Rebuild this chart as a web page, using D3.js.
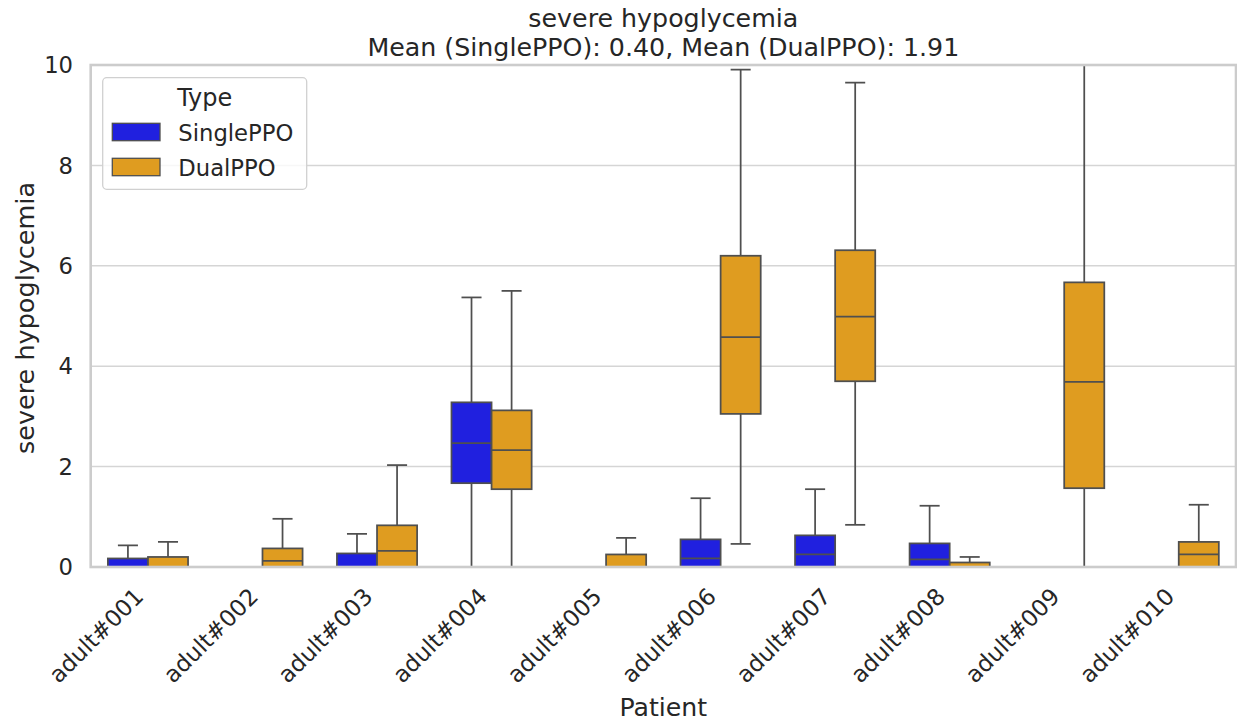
<!DOCTYPE html>
<html>
<head>
<meta charset="utf-8">
<script src="https://cdn.jsdelivr.net/npm/d3@7"></script>
<style>
  html, body { margin: 0; padding: 0; background: #ffffff; }
  svg { display: block; font-family: "DejaVu Sans", sans-serif; }
</style>
</head>
<body>
<svg id="chart" width="1237" height="722"></svg>
<script>
// Patients on the x axis
const patients = ["adult#001", "adult#002", "adult#003", "adult#004", "adult#005",
                  "adult#006", "adult#007", "adult#008", "adult#009", "adult#010"];

// Box statistics per patient: [lower whisker, Q1, median, Q3, upper whisker]
const singlePPO = [
  [0, 0, 0, 0.17, 0.43],
  [0, 0, 0, 0, 0],
  [0, 0, 0, 0.27, 0.66],
  [0, 1.67, 2.47, 3.28, 5.37],
  [0, 0, 0, 0, 0],
  [0, 0, 0.17, 0.55, 1.37],
  [0, 0, 0.25, 0.63, 1.55],
  [0, 0, 0.15, 0.47, 1.22],
  [0, 0, 0, 0, 0],
  [0, 0, 0, 0, 0]
];
const dualPPO = [
  [0, 0, 0, 0.20, 0.50],
  [0, 0, 0.12, 0.37, 0.96],
  [0, 0, 0.32, 0.83, 2.03],
  [0, 1.55, 2.33, 3.12, 5.50],
  [0, 0, 0, 0.25, 0.58],
  [0.46, 3.05, 4.58, 6.20, 9.91],
  [0.84, 3.70, 4.99, 6.31, 9.65],
  [0, 0, 0, 0.09, 0.20],
  [0, 1.57, 3.69, 5.67, 11.5],
  [0, 0, 0.25, 0.50, 1.24]
];

const seriesNames = ["SinglePPO", "DualPPO"];
const seriesColors = ["#2020df", "#df9c20"];
const yTicks = [0, 2, 4, 6, 8, 10];
const titleLines = ["severe hypoglycemia", "Mean (SinglePPO): 0.40, Mean (DualPPO): 1.91"];

const svg = d3.select("#chart");
const plotLeft = 90.7, plotRight = 1236, plotTop = 65, plotBottom = 567;
const textColor = "#262626";
const lineColor = "#4f4f4f";
const gridColor = "#d5d5d5";

const x = d3.scaleBand().domain(patients).range([plotLeft, plotRight]).padding(0);
const y = d3.scaleLinear().domain([0, 10]).range([plotBottom, plotTop]);
const hue = d3.scaleBand().domain(seriesNames)
  .range([-0.35 * x.bandwidth(), 0.35 * x.bandwidth()]).padding(0);

svg.append("defs").append("clipPath").attr("id", "plotClip")
  .append("rect").attr("x", plotLeft).attr("y", plotTop)
  .attr("width", plotRight - plotLeft).attr("height", plotBottom - plotTop);

// Horizontal grid
svg.append("g").selectAll("line").data(yTicks).join("line")
  .attr("x1", plotLeft).attr("x2", plotRight)
  .attr("y1", d => y(d)).attr("y2", d => y(d))
  .attr("stroke", gridColor).attr("stroke-width", 1.5);

// Boxes
const plot = svg.append("g").attr("clip-path", "url(#plotClip)");
const series = [singlePPO, dualPPO];
series.forEach((stats, si) => {
  const name = seriesNames[si];
  const g = plot.append("g");
  const bw = hue.bandwidth();
  const rows = patients.map((p, i) => ({ p, s: stats[i] }));
  const grp = g.selectAll("g").data(rows).join("g")
    .attr("transform", d => `translate(${x(d.p) + x.bandwidth() / 2 + hue(name)},0)`);
  // whiskers
  grp.append("line").attr("x1", bw / 2).attr("x2", bw / 2)
    .attr("y1", d => y(d.s[0])).attr("y2", d => y(d.s[1]))
    .attr("stroke", lineColor).attr("stroke-width", 1.75);
  grp.append("line").attr("x1", bw / 2).attr("x2", bw / 2)
    .attr("y1", d => y(d.s[3])).attr("y2", d => y(d.s[4]))
    .attr("stroke", lineColor).attr("stroke-width", 1.75);
  // caps
  grp.append("line").attr("x1", bw / 4).attr("x2", bw * 3 / 4)
    .attr("y1", d => y(d.s[0])).attr("y2", d => y(d.s[0]))
    .attr("stroke", lineColor).attr("stroke-width", 1.75);
  grp.append("line").attr("x1", bw / 4).attr("x2", bw * 3 / 4)
    .attr("y1", d => y(d.s[4])).attr("y2", d => y(d.s[4]))
    .attr("stroke", lineColor).attr("stroke-width", 1.75);
  // box
  grp.append("rect").attr("x", 0).attr("width", bw)
    .attr("y", d => y(d.s[3])).attr("height", d => y(d.s[1]) - y(d.s[3]))
    .attr("fill", seriesColors[si]).attr("stroke", lineColor).attr("stroke-width", 1.75);
  // median
  grp.append("line").attr("x1", 0).attr("x2", bw)
    .attr("y1", d => y(d.s[2])).attr("y2", d => y(d.s[2]))
    .attr("stroke", lineColor).attr("stroke-width", 1.75);
});

// Frame
svg.append("rect").attr("x", plotLeft).attr("y", plotTop)
  .attr("width", plotRight - plotLeft).attr("height", plotBottom - plotTop)
  .attr("fill", "none").attr("stroke", "#cccccc").attr("stroke-width", 2.6);

// Y tick labels
svg.append("g").selectAll("text").data(yTicks).join("text")
  .attr("x", 73).attr("y", d => y(d)).attr("dy", "0.36em")
  .attr("text-anchor", "end").attr("font-size", 22.7).attr("fill", textColor)
  .text(d => d);

// X tick labels, rotated
svg.append("g").selectAll("text").data(patients).join("text")
  .attr("text-anchor", "end").attr("font-size", 23).attr("fill", textColor)
  .attr("transform", d => `translate(${x(d) + x.bandwidth() / 2 - 3},${plotBottom + 31}) rotate(-45)`)
  .text(d => d);

// Axis titles
svg.append("text").attr("x", (plotLeft + plotRight) / 2).attr("y", 716)
  .attr("text-anchor", "middle").attr("font-size", 25.2).attr("fill", textColor)
  .text("Patient");
svg.append("text")
  .attr("transform", `translate(34,${(plotTop + plotBottom) / 2 + 2}) rotate(-90)`)
  .attr("text-anchor", "middle").attr("font-size", 25.5).attr("fill", textColor)
  .text("severe hypoglycemia");

// Title
svg.append("g").selectAll("text").data(titleLines).join("text")
  .attr("x", (plotLeft + plotRight) / 2).attr("y", (d, i) => 27 + i * 28.5)
  .attr("text-anchor", "middle").attr("font-size", 25.3).attr("fill", textColor)
  .text(d => d);

// Legend
const lg = svg.append("g");
lg.append("rect").attr("x", 102.7).attr("y", 77.7).attr("width", 204).attr("height", 111.6)
  .attr("rx", 4).attr("fill", "#ffffff").attr("fill-opacity", 0.8)
  .attr("stroke", "#d0d0d0").attr("stroke-width", 1.3);
lg.append("text").attr("x", 204.7).attr("y", 106).attr("text-anchor", "middle")
  .attr("font-size", 24).attr("fill", textColor).text("Type");
const entries = lg.selectAll("g.item").data(seriesNames).join("g").attr("class", "item")
  .attr("transform", (d, i) => `translate(0,${i * 35})`);
entries.append("rect").attr("x", 112.3).attr("y", 123.3).attr("width", 47.7).attr("height", 17.4)
  .attr("fill", (d, i) => seriesColors[i]).attr("stroke", lineColor).attr("stroke-width", 1.3);
entries.append("text").attr("x", 178.3).attr("y", 140.5)
  .attr("font-size", 22.7).attr("fill", textColor).text(d => d);
</script>
</body>
</html>
